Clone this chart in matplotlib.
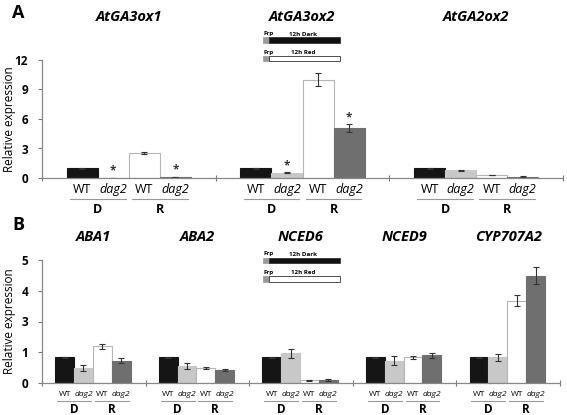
import matplotlib
matplotlib.use("Agg")
import matplotlib.pyplot as plt
from matplotlib.patches import Rectangle
from matplotlib.transforms import blended_transform_factory

plt.rcParams['font.family'] = ['Open Sans', 'DejaVu Sans']

# bar order inside every gene group
conditions = ['WT', 'dag2', 'WT', 'dag2']
light = ['D', 'R']
bar_colors = ['#151515', '#c8c8c8', '#ffffff', '#6f6f6f']
bar_edges = ['#151515', '#c8c8c8', '#b5b5b5', '#6f6f6f']

# panel A
genes_a = ['AtGA3ox1', 'AtGA3ox2', 'AtGA2ox2']
vals_a = [[1.0, 0.03, 2.52, 0.12],
          [1.0, 0.52, 10.0, 5.05],
          [1.0, 0.8, 0.3, 0.15]]
errs_a = [[0.05, 0.02, 0.12, 0.03],
          [0.05, 0.05, 0.68, 0.42],
          [0.04, 0.06, 0.03, 0.02]]
stars_a = [[False, True, False, True],
           [False, True, False, True],
           [False, False, False, False]]
yticks_a = [0, 3, 6, 9, 12]

# panel B (axis shows labels 0,1,3,4,5 evenly spaced)
genes_b = ['ABA1', 'ABA2', 'NCED6', 'NCED9', 'CYP707A2']
vals_b = [[0.83, 0.48, 1.2, 0.73],
          [0.83, 0.56, 0.49, 0.41],
          [0.83, 0.97, 0.09, 0.1],
          [0.83, 0.73, 0.83, 0.9],
          [0.83, 0.83, 2.68, 3.49]]
errs_b = [[0.03, 0.1, 0.08, 0.07],
          [0.03, 0.1, 0.04, 0.03],
          [0.03, 0.15, 0.02, 0.02],
          [0.03, 0.14, 0.05, 0.08],
          [0.03, 0.11, 0.19, 0.28]]
yticks_b = [0, 1, 2, 3, 4]
yticklabels_b = ['0', '1', '3', '4', '5']

W, H = 567, 415
fig = plt.figure(figsize=(W / 100, H / 100), dpi=100)


def fy(py):
    return 1 - py / H


def fx(px):
    return px / W


def draw_panel(ax, genes, vals, errs, gw, off, ylim, yticks, yticklabels,
               title_py, lab_py, line_py, dr_py, lab_fs, dr_fs, stars=None):
    tr = blended_transform_factory(ax.transData, fig.transFigure)
    for g, gene in enumerate(genes):
        xs = [gw * g + off + 0.5 + i for i in range(4)]
        ax.bar(xs, vals[g], width=1.0, color=bar_colors, edgecolor=bar_edges,
               linewidth=0.8, yerr=errs[g], ecolor='#333333',
               error_kw=dict(elinewidth=0.8, capsize=2, capthick=0.8))
        if stars is not None:
            for i in range(4):
                if stars[g][i]:
                    ax.text(xs[i], vals[g][i] + errs[g][i], '*',
                            ha='center', va='bottom', fontsize=8.5,
                            color='#333333', fontweight='bold')
        ax.text(gw * g + gw / 2, fy(title_py), gene, transform=tr,
                ha='center', va='center', fontsize=10.5,
                fontweight='bold', style='italic')
        for i, c in enumerate(conditions):
            ax.text(xs[i], fy(lab_py), c, transform=tr, ha='center',
                    va='center', fontsize=lab_fs,
                    style='italic' if c == 'dag2' else 'normal')
        for p in range(2):
            x0 = xs[2 * p] - 0.4
            x1 = xs[2 * p + 1] + 0.4
            ax.plot([x0, x1], [fy(line_py)] * 2, transform=tr, color='#999999',
                    lw=0.8, clip_on=False)
            ax.text((x0 + x1) / 2, fy(dr_py), light[p], transform=tr,
                    ha='center', va='center', fontsize=dr_fs, fontweight='bold')
    ax.set_xlim(0, gw * len(genes))
    ax.set_ylim(0, ylim)
    ax.set_xticks([gw * g for g in range(len(genes) + 1)])
    ax.set_xticklabels([])
    ax.set_yticks(yticks)
    ax.set_yticklabels(yticklabels, fontsize=8.5, fontweight='bold')
    ax.tick_params(axis='x', direction='inout', length=4, color='#777777')
    ax.tick_params(axis='y', length=3, color='#777777', pad=7)
    for s in ['top', 'right']:
        ax.spines[s].set_visible(False)
    for s in ['left', 'bottom']:
        ax.spines[s].set_color('#888888')
        ax.spines[s].set_linewidth(0.9)
    pos = ax.get_position()
    fig.text(fx(10), pos.y0 + pos.height / 2, 'Relative expression',
             rotation=90, ha='center', va='center', fontsize=8.5)


def light_key(x0, y_dark):
    # small Frp / 12h Dark / 12h Red key, in pixel positions
    for k, (fill, name) in enumerate([('#111111', '12h Dark'), ('#ffffff', '12h Red')]):
        yb = y_dark + k * 18.5
        fig.add_artist(Rectangle((fx(x0), fy(yb + 5)), fx(6), 5.5 / H,
                                 transform=fig.transFigure, facecolor='#999999',
                                 edgecolor='#999999', lw=0.5))
        fig.add_artist(Rectangle((fx(x0 + 6), fy(yb + 5)), fx(71), 5.5 / H,
                                 transform=fig.transFigure, facecolor=fill,
                                 edgecolor='#333333', lw=0.6))
        fig.text(fx(x0 + 1), fy(yb - 4), 'Frp', fontsize=4.5, fontweight='bold',
                 ha='left', va='center')
        fig.text(fx(x0 + 40), fy(yb - 4), name, fontsize=4.5, fontweight='bold',
                 ha='center', va='center')


ax_a = fig.add_axes([fx(42), fy(178), fx(521), (178 - 60) / H])
draw_panel(ax_a, genes_a, vals_a, errs_a, 5.6, 0.8, 12, yticks_a,
           [str(t) for t in yticks_a], 17, 189, 199, 209, 9, 9, stars_a)

ax_b = fig.add_axes([fx(42), fy(383), fx(518), (383 - 260) / H])
draw_panel(ax_b, genes_b, vals_b, errs_b, 5.5, 0.7, 4, yticks_b,
           yticklabels_b, 237, 394, 401, 409, 6, 8.5)

light_key(263, 38)
light_key(263, 258)

fig.text(fx(12), fy(13), 'A', fontsize=13, fontweight='bold', va='center')
fig.text(fx(12), fy(225), 'B', fontsize=13, fontweight='bold', va='center')

fig.savefig('out.png', dpi=100)
